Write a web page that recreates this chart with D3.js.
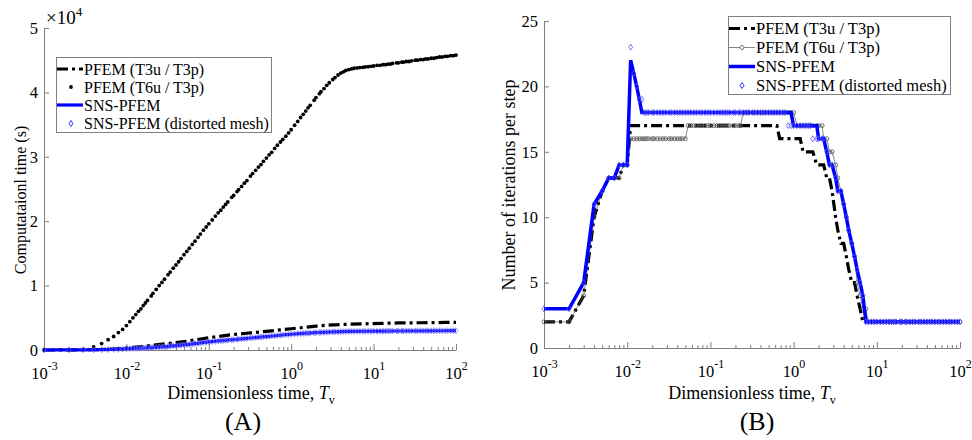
<!DOCTYPE html>
<html>
<head>
<meta charset="utf-8">
<script src="https://cdn.jsdelivr.net/npm/d3@7"></script>
<style>
  body { margin: 0; background: #fff; }
  svg { display: block; font-family: "Liberation Serif", "Times New Roman", serif; }
</style>
</head>
<body>
<svg id="fig" width="972" height="440"></svg>
<script>
// ---- data -------------------------------------------------------------
// Dimensionless time at each computed step (shared by both panels)
const stepTimes = [
  0.001,0.002,0.003,0.004,0.005,0.006,0.007,0.008,0.009,
  0.010,0.011,0.012,0.013,0.014,0.015,0.016,0.017,0.018,0.020,0.021,0.023,0.025,0.027,0.029,0.032,0.034,0.037,0.040,0.043,0.046,0.050,0.054,0.058,0.063,0.068,0.074,0.079,0.086,0.093,
  0.10,0.11,0.12,0.13,0.14,0.15,0.16,0.17,0.19,0.20,0.22,0.23,0.25,0.27,0.29,0.32,0.34,0.37,0.40,0.43,0.46,0.50,0.54,0.58,0.63,0.68,0.74,0.79,0.86,0.93,
  1.0,1.1,1.2,1.3,1.4,1.5,1.6,1.7,1.9,2.0,2.2,2.3,2.5,2.7,2.9,3.2,3.4,3.7,4.0,4.3,4.6,5.0,5.4,5.8,6.3,6.8,7.4,7.9,8.6,9.3,
  10,11,12,13,14,15,16,17,19,20,22,23,25,27,29,32,34,37,40,43,46,50,54,58,63,68,74,79,86,93,
  100
];

// (A) cumulative computational time, in units of 1e4 s
const timeT6u = [
  0.00,0.00,0.01,0.05,0.10,0.16,0.21,0.27,0.32,
  0.38,0.44,0.50,0.55,0.60,0.64,0.69,0.73,0.77,0.84,0.88,0.94,1.00,1.05,1.10,1.17,1.21,1.27,1.32,1.37,1.42,1.48,1.53,1.58,1.64,1.69,1.75,1.80,1.86,1.91,
  1.96,2.02,2.08,2.13,2.17,2.22,2.26,2.30,2.37,2.40,2.46,2.49,2.54,2.59,2.63,2.70,2.74,2.79,2.84,2.88,2.93,2.98,3.03,3.07,3.13,3.18,3.23,3.27,3.32,3.37,
  3.42,3.49,3.55,3.61,3.66,3.71,3.76,3.80,3.88,3.92,3.98,4.01,4.06,4.11,4.15,4.20,4.23,4.27,4.30,4.32,4.34,4.355,4.365,4.375,4.38,4.385,4.39,4.395,4.40,4.405,
  4.41,4.42,4.42,4.43,4.43,4.44,4.44,4.45,4.46,4.46,4.47,4.47,4.48,4.48,4.49,4.50,4.50,4.51,4.51,4.52,4.52,4.53,4.53,4.54,4.55,4.55,4.56,4.56,4.57,4.57,
  4.58
];
const timeSnsDistorted = [
  0.000,0.001,0.002,0.003,0.005,0.007,0.009,0.012,0.015,
  0.020,0.022,0.024,0.025,0.027,0.029,0.031,0.033,0.034,0.038,0.040,0.043,0.046,0.049,0.052,0.057,0.060,0.064,0.068,0.071,0.075,0.080,0.084,0.088,0.093,0.098,0.104,0.108,0.114,0.120,
  0.125,0.130,0.134,0.139,0.143,0.146,0.149,0.153,0.158,0.161,0.166,0.168,0.173,0.177,0.180,0.186,0.189,0.193,0.197,0.201,0.205,0.209,0.213,0.217,0.221,0.225,0.229,0.233,0.237,0.241,
  0.245,0.249,0.252,0.255,0.258,0.260,0.262,0.264,0.268,0.269,0.272,0.273,0.275,0.277,0.279,0.280,0.282,0.283,0.285,0.286,0.287,0.288,0.289,0.289,0.290,0.291,0.291,0.292,0.292,0.292,
  0.292,0.293,0.293,0.293,0.294,0.294,0.294,0.294,0.295,0.295,0.295,0.295,0.296,0.296,0.296,0.296,0.297,0.297,0.297,0.297,0.298,0.298,0.298,0.298,0.299,0.299,0.299,0.299,0.300,0.300,
  0.300
];
const lineTimes = [0.001,0.002,0.003,0.005,0.007,0.01,0.02,0.032,0.05,0.1,0.2,0.32,0.5,1,2,3.2,5,10,20,50,100];
const timeT3u = [0,0.001,0.003,0.008,0.015,0.03,0.07,0.10,0.13,0.19,0.24,0.265,0.29,0.33,0.37,0.39,0.40,0.41,0.42,0.425,0.43];
const timeSns = [0,0.001,0.002,0.005,0.009,0.02,0.038,0.057,0.08,0.125,0.161,0.186,0.209,0.245,0.269,0.28,0.288,0.292,0.295,0.298,0.30];

// (B) Newton iterations needed per time step
const iterT3u = [
  2,2,4,10,12,13,13,13,14,
  14,17,17,17,17,17,17,17,17,17,17,17,17,17,17,17,17,17,17,17,17,17,17,17,17,17,17,17,17,17,
  17,17,17,17,17,17,17,17,17,17,17,17,17,17,17,17,17,17,17,17,17,17,17,17,17,16,16,16,16,16,
  16,16,16,15,15,15,15,15,14,14,14,14,13,13,12,10,9,8,8,7,6,5,5,4,3,2,2,2,2,2,
  2,2,2,2,2,2,2,2,2,2,2,2,2,2,2,2,2,2,2,2,2,2,2,2,2,2,2,2,2,2,
  2
];
const iterT6u = [
  2,2,4,10,12,13,13,13,14,
  14,16,16,16,16,16,16,16,16,16,16,16,16,16,16,16,16,16,16,16,16,16,17,17,17,17,17,17,17,17,
  17,17,17,17,17,17,17,17,17,17,17,17,18,18,18,18,18,18,18,18,18,18,18,18,18,18,18,18,18,18,
  18,17,17,17,17,17,17,17,17,17,17,16,16,15,15,14,13,12,11,10,9,8,7,5,4,3,3,2,2,2,
  2,2,2,2,2,2,2,2,2,2,2,2,2,2,2,2,2,2,2,2,2,2,2,2,2,2,2,2,2,2,
  2
];
const iterSns = [
  3,3,5,11,12,13,13,14,14,
  14,22,21,20,19,18,18,18,18,18,18,18,18,18,18,18,18,18,18,18,18,18,18,18,18,18,18,18,18,18,
  18,18,18,18,18,18,18,18,18,18,18,18,18,18,18,18,18,18,18,18,18,18,18,18,18,18,18,18,18,18,
  17,17,17,17,17,17,17,17,17,16,16,16,15,14,14,13,12,12,11,10,9,8,7,6,5,4,2,2,2,2,
  2,2,2,2,2,2,2,2,2,2,2,2,2,2,2,2,2,2,2,2,2,2,2,2,2,2,2,2,2,2,
  2
];
const iterSnsDistorted = [
  3,3,5,11,12,13,13,14,14,
  14,23,21,20,19,19,18,18,18,18,18,18,18,18,18,18,18,18,18,18,18,18,18,18,18,18,18,18,18,18,
  18,18,18,18,18,18,18,18,18,18,18,18,18,18,18,18,18,18,18,18,18,18,18,18,18,18,18,18,17,17,
  17,17,17,17,17,17,17,16,16,16,16,16,15,14,14,13,12,12,11,10,9,8,7,6,5,4,2,2,2,2,
  2,2,2,2,2,2,2,2,2,2,2,2,2,2,2,2,2,2,2,2,2,2,2,2,2,2,2,2,2,2,
  2
];

// axes and labels
const xDecades = [1e-3, 1e-2, 1e-1, 1, 10, 100];
const xExponents = ["-3", "-2", "-1", "0", "1", "2"];
const yTicksA = [0, 1, 2, 3, 4, 5];
const yTicksB = [0, 5, 10, 15, 20, 25];
const legendLabels = ["PFEM (T3u / T3p)", "PFEM (T6u / T3p)", "SNS-PFEM", "SNS-PFEM (distorted mesh)"];

// ---- drawing ----------------------------------------------------------
const svg = d3.select("#fig");
const BLUE = "#0000ff";
const AXIS = "#808080";
const SERIF = "Liberation Serif";
const DASHDOT = "11,4,3,4";

function diamond(sel, w, h) {
  return sel.attr("d", `M0,${-h}L${w},0L0,${h}L${-w},0Z`);
}

function panel(cfg) {
  const x = d3.scaleLog().domain([1e-3, 1e2]).range([cfg.x0, cfg.x1]);
  const y = d3.scaleLinear().domain(cfg.yDomain).range([cfg.y0, cfg.y1]);
  const g = svg.append("g");

  const isDecade = t => Math.abs(Math.log10(t) - Math.round(Math.log10(t))) < 1e-6;
  const minor = x.ticks().filter(t => !isDecade(t));

  // minor ticks (inward)
  g.append("g").attr("transform", `translate(0,${cfg.y0})`)
    .call(d3.axisBottom(x).tickValues(minor).tickSize(-3).tickSizeOuter(0).tickFormat(""))
    .call(a => a.select(".domain").remove());

  // major ticks and 10^n labels
  g.append("g").attr("transform", `translate(0,${cfg.y0})`)
    .call(d3.axisBottom(x).tickValues(xDecades).tickSize(-6).tickSizeOuter(0).tickPadding(17).tickFormat(""))
    .call(a => a.selectAll(".tick text").each(function (d, i) {
      const t = d3.select(this);
      t.append("tspan").text("10");
      t.append("tspan").attr("dy", "-0.72em").attr("font-size", "12px").text(xExponents[i]);
    }));

  g.append("g").attr("transform", `translate(${cfg.x0},0)`)
    .call(d3.axisLeft(y).tickValues(cfg.yTicks).tickFormat(d3.format("d"))
      .tickSize(-5).tickSizeOuter(0).tickPadding(6));

  g.selectAll("g").attr("font-family", SERIF);
  g.selectAll(".domain, .tick line").attr("stroke", AXIS);
  g.selectAll(".tick text").attr("font-size", "16.5px").attr("fill", "#000");

  // x title
  const xt = g.append("text").attr("x", cfg.xTitleX).attr("y", 399)
    .attr("text-anchor", "middle").attr("font-size", "18px");
  xt.append("tspan").text("Dimensionless time, ");
  xt.append("tspan").attr("font-style", "italic").text("T");
  xt.append("tspan").attr("font-size", "12px").attr("dy", 5).text("v");

  // y title
  g.append("text")
    .attr("transform", `translate(${cfg.yTitleX},${cfg.yTitleY}) rotate(-90)`)
    .attr("text-anchor", "middle").attr("font-size", cfg.yTitleSize)
    .text(cfg.yTitle);

  // panel tag
  g.append("text").attr("x", cfg.tagX).attr("y", 430).attr("text-anchor", "middle")
    .attr("font-size", "26px").text(cfg.tag);

  return { g, x, y };
}

// ---------- (A) computational time ----------
{
  const { g, x, y } = panel({
    x0: 44, x1: 456, y0: 350, y1: 28, yDomain: [0, 5], yTicks: yTicksA,
    xTitleX: 251, yTitle: "Computataionl time (s)", yTitleX: 26, yTitleY: 200, yTitleSize: "16px",
    tag: "(A)", tagX: 243
  });

  const mult = g.append("text").attr("x", 46).attr("y", 24).attr("font-size", "19px");
  mult.append("tspan").text("\u00d710");
  mult.append("tspan").attr("dy", -8).attr("font-size", "13px").text("4");

  const line = (ts, vs) => d3.line().curve(d3.curveMonotoneX)
    .x((d, i) => x(ts[i])).y(d => y(d))(vs);

  g.append("path").attr("d", line(lineTimes, timeT3u))
    .attr("fill", "none").attr("stroke", "#000").attr("stroke-width", 3.2).attr("stroke-dasharray", DASHDOT);

  g.append("g").selectAll("circle").data(timeT6u).join("circle")
    .attr("cx", (d, i) => x(stepTimes[i])).attr("cy", d => y(d)).attr("r", 1.9).attr("fill", "#000");

  g.append("path").attr("d", line(lineTimes, timeSns))
    .attr("fill", "none").attr("stroke", BLUE).attr("stroke-width", 3.2);

  g.append("g").selectAll("path").data(timeSnsDistorted).join("path")
    .call(diamond, 2, 3)
    .attr("transform", (d, i) => `translate(${x(stepTimes[i])},${y(d)})`)
    .attr("fill", "none").attr("stroke", "#6f6fff").attr("stroke-width", 0.7);

  // legend
  const lg = g.append("g");
  lg.append("rect").attr("x", 56.5).attr("y", 57.5).attr("width", 215).attr("height", 75)
    .attr("fill", "#fff").attr("stroke", AXIS);
  const rows = [69, 87, 105, 123.5];
  lg.append("line").attr("x1", 57).attr("x2", 83).attr("y1", rows[0]).attr("y2", rows[0])
    .attr("stroke", "#000").attr("stroke-width", 3.2).attr("stroke-dasharray", DASHDOT);
  lg.append("circle").attr("cx", 71).attr("cy", rows[1]).attr("r", 1.9).attr("fill", "#000");
  lg.append("line").attr("x1", 57).attr("x2", 83).attr("y1", rows[2]).attr("y2", rows[2])
    .attr("stroke", BLUE).attr("stroke-width", 3.2);
  lg.append("path").call(diamond, 2, 3).attr("transform", `translate(71,${rows[3]})`)
    .attr("fill", "none").attr("stroke", BLUE).attr("stroke-width", 0.8);
  lg.selectAll("text.lab").data(legendLabels).join("text").attr("class", "lab")
    .attr("x", 84).attr("y", (d, i) => rows[i]).attr("dy", "0.35em").attr("font-size", "16px").text(d => d);
}

// ---------- (B) iterations per step ----------
{
  const { g, x, y } = panel({
    x0: 544, x1: 960, y0: 348, y1: 21, yDomain: [0, 25], yTicks: yTicksB,
    xTitleX: 752, yTitle: "Number of iterations per step", yTitleX: 515, yTitleY: 185, yTitleSize: "18px",
    tag: "(B)", tagX: 757
  });

  const line = vs => d3.line().x((d, i) => x(stepTimes[i])).y(d => y(d))(vs);

  g.append("path").attr("d", line(iterT3u))
    .attr("fill", "none").attr("stroke", "#000").attr("stroke-width", 3.2).attr("stroke-dasharray", DASHDOT);

  g.append("path").attr("d", line(iterT6u))
    .attr("fill", "none").attr("stroke", "#555").attr("stroke-width", 0.7);
  g.append("g").selectAll("circle").data(iterT6u).join("circle")
    .attr("cx", (d, i) => x(stepTimes[i])).attr("cy", d => y(d)).attr("r", 2)
    .attr("fill", "none").attr("stroke", "#555").attr("stroke-width", 0.8);

  g.append("path").attr("d", line(iterSns))
    .attr("fill", "none").attr("stroke", BLUE).attr("stroke-width", 3.5);

  g.append("g").selectAll("path").data(iterSnsDistorted).join("path")
    .call(diamond, 2, 3)
    .attr("transform", (d, i) => `translate(${x(stepTimes[i])},${y(d)})`)
    .attr("fill", "none").attr("stroke", "#5050ff").attr("stroke-width", 0.8);

  // legend
  const lg = g.append("g");
  lg.append("rect").attr("x", 728.5).attr("y", 16.5).attr("width", 222).attr("height", 78)
    .attr("fill", "#fff").attr("stroke", AXIS);
  const rows = [28.5, 47.5, 66.5, 85.5];
  lg.append("line").attr("x1", 729).attr("x2", 755).attr("y1", rows[0]).attr("y2", rows[0])
    .attr("stroke", "#000").attr("stroke-width", 3.2).attr("stroke-dasharray", DASHDOT);
  lg.append("line").attr("x1", 729).attr("x2", 755).attr("y1", rows[1]).attr("y2", rows[1])
    .attr("stroke", "#555").attr("stroke-width", 0.7);
  lg.append("circle").attr("cx", 742).attr("cy", rows[1]).attr("r", 2)
    .attr("fill", "#fff").attr("stroke", "#555").attr("stroke-width", 0.8);
  lg.append("line").attr("x1", 729).attr("x2", 755).attr("y1", rows[2]).attr("y2", rows[2])
    .attr("stroke", BLUE).attr("stroke-width", 3.5);
  lg.append("path").call(diamond, 2, 3).attr("transform", `translate(742,${rows[3]})`)
    .attr("fill", "none").attr("stroke", BLUE).attr("stroke-width", 0.8);
  lg.selectAll("text.lab").data(legendLabels).join("text").attr("class", "lab")
    .attr("x", 756).attr("y", (d, i) => rows[i]).attr("dy", "0.35em").attr("font-size", "16.5px").text(d => d);
}
</script>
</body>
</html>
